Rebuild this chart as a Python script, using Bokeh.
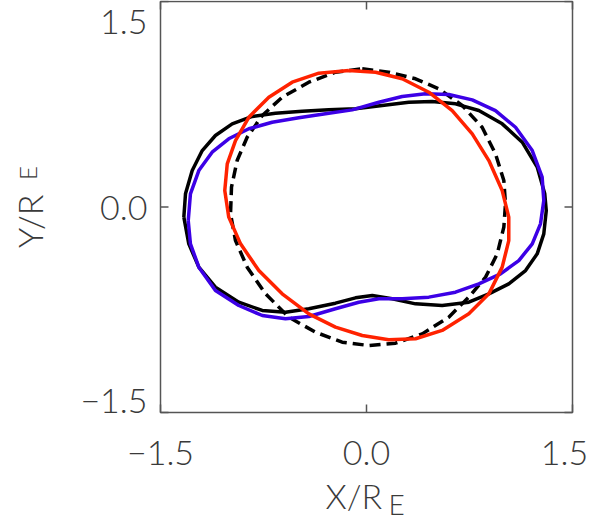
import math
from bokeh.plotting import figure
from bokeh.models import Label, ColumnDataSource
from bokeh.core.properties import value
from bokeh.embed import file_html
from bokeh.resources import INLINE

# ---------------- data ----------------
x_ticks = [-1.5, 0.0, 1.5]
y_ticks = [-1.5, 0.0, 1.5]
x_tick_labels = ["\u22121.5", "0.0", "1.5"]
y_tick_labels = ["\u22121.5", "0.0", "1.5"]

black_x = [-1.330, -1.318, -1.269, -1.196, -1.100, -0.978, -0.832, -0.663, -0.468, -0.275,
           -0.080, 0.114, 0.308, 0.478, 0.648, 0.818, 0.988, 1.134, 1.243, 1.298,
           1.309, 1.291, 1.243, 1.158, 1.036, 0.891, 0.745, 0.551, 0.357, 0.187,
           0.042, -0.080, -0.226, -0.420, -0.590, -0.759, -0.930, -1.100, -1.221, -1.294, -1.330]
black_y = [-0.074, 0.096, 0.266, 0.412, 0.522, 0.607, 0.661, 0.685, 0.699, 0.709,
           0.717, 0.741, 0.765, 0.770, 0.753, 0.704, 0.607, 0.473, 0.291, 0.096,
           -0.026, -0.196, -0.342, -0.464, -0.561, -0.634, -0.695, -0.719, -0.707, -0.670,
           -0.646, -0.663, -0.702, -0.743, -0.768, -0.755, -0.695, -0.585, -0.439, -0.269, -0.074]

blue_x = [-1.298, -1.282, -1.221, -1.124, -1.003, -0.857, -0.687, -0.493, -0.299, -0.104,
          0.090, 0.260, 0.430, 0.599, 0.770, 0.939, 1.085, 1.207, 1.279, 1.291,
          1.267, 1.207, 1.109, 0.976, 0.818, 0.648, 0.454, 0.260, 0.090, -0.056,
          -0.226, -0.420, -0.590, -0.759, -0.930, -1.100, -1.221, -1.282, -1.298]
blue_y = [-0.099, 0.096, 0.266, 0.400, 0.498, 0.571, 0.619, 0.651, 0.680, 0.709,
          0.765, 0.807, 0.826, 0.821, 0.782, 0.704, 0.582, 0.412, 0.218, 0.047,
          -0.123, -0.269, -0.391, -0.488, -0.561, -0.622, -0.658, -0.670, -0.670, -0.695,
          -0.743, -0.799, -0.816, -0.792, -0.719, -0.609, -0.439, -0.269, -0.099]

red_x = [-0.129, 0.066, 0.260, 0.454, 0.624, 0.770, 0.891, 0.988, 1.036, 1.036,
         0.988, 0.891, 0.745, 0.551, 0.357, 0.162, -0.031, -0.226, -0.420, -0.614,
         -0.784, -0.917, -1.003, -1.032, -1.014, -0.954, -0.857, -0.711, -0.541, -0.347, -0.129]
red_y = [0.996, 0.984, 0.936, 0.838, 0.704, 0.534, 0.339, 0.120, -0.074, -0.245,
         -0.439, -0.634, -0.780, -0.901, -0.962, -0.969, -0.938, -0.877, -0.780, -0.634,
         -0.464, -0.269, -0.074, 0.120, 0.315, 0.485, 0.655, 0.801, 0.911, 0.977, 0.996]

dash_x = [-0.031, 0.162, 0.357, 0.526, 0.697, 0.842, 0.939, 1.000, 1.012, 1.000,
          0.952, 0.867, 0.745, 0.599, 0.406, 0.211, 0.017, -0.177, -0.371, -0.566,
          -0.735, -0.869, -0.954, -0.990, -0.983, -0.942, -0.869, -0.759, -0.614, -0.420,
          -0.226, -0.031]
dash_y = [1.009, 0.984, 0.936, 0.863, 0.741, 0.582, 0.388, 0.193, 0.023, -0.147,
          -0.342, -0.512, -0.658, -0.804, -0.926, -0.994, -1.011, -0.987, -0.914, -0.804,
          -0.634, -0.439, -0.245, -0.050, 0.145, 0.339, 0.509, 0.668, 0.801, 0.911,
          0.984, 1.009]

# ---------------- layout / styles ----------------
W, H = 597, 520
BOX_L, BOX_R, BOX_T, BOX_B = 160, 572, 1, 412       # pixel box of the plot frame
lo, hi = x_ticks[0], x_ticks[-1]
sx = (BOX_R - BOX_L) / (hi - lo)
sy = (BOX_B - BOX_T) / (hi - lo)
x_range = (lo - BOX_L / sx, hi + (W - BOX_R) / sx)
y_range = (lo - (H - BOX_B) / sy, hi + BOX_T / sy)

FONT = "Lato Light, Roboto Light, DejaVu Sans"
TXT = "#3a3a3a"
FRAME = "#555555"
TICK = 8
LW = 3.5

p = figure(width=W, height=H, x_range=x_range, y_range=y_range,
           output_backend="svg", toolbar_location=None,
           x_axis_location=None, y_axis_location=None,
           min_border=0)
p.grid.visible = False
p.outline_line_color = None
p.background_fill_color = "white"
p.border_fill_color = "white"

# frame box
p.quad(left=[lo], right=[hi], bottom=[lo], top=[hi], fill_color=None,
       line_color=FRAME, line_width=1.5)

# inward ticks on all four sides
tx = TICK / sx
ty = TICK / sy
n = len(x_ticks)
p.segment(x0=x_ticks, y0=[lo] * n, x1=x_ticks, y1=[lo + ty] * n, line_color=FRAME, line_width=1.5)
p.segment(x0=x_ticks, y0=[hi] * n, x1=x_ticks, y1=[hi - ty] * n, line_color=FRAME, line_width=1.5)
p.segment(x0=[lo] * n, y0=y_ticks, x1=[lo + tx] * n, y1=y_ticks, line_color=FRAME, line_width=1.5)
p.segment(x0=[hi] * n, y0=y_ticks, x1=[hi - tx] * n, y1=y_ticks, line_color=FRAME, line_width=1.5)

# curves
p.line(dash_x, dash_y, line_color="black", line_width=LW, line_dash="11 6")
p.line(black_x, black_y, line_color="black", line_width=LW, line_join="round")
p.line(blue_x, blue_y, line_color="#3c00e6", line_width=LW, line_join="round")
p.line(red_x, red_y, line_color="#ff2200", line_width=LW, line_join="round")

# tick labels
xs = ColumnDataSource(dict(x=x_ticks, y=[lo] * n, t=x_tick_labels, dx=[0, 0, -8]))
p.text(x="x", y="y", text="t", x_offset="dx", y_offset=40, source=xs,
       text_align="center", text_baseline="middle",
       text_font=value(FONT), text_font_size="34px", text_color=TXT)
ys = ColumnDataSource(dict(x=[lo] * n, y=y_ticks, t=y_tick_labels, dy=[-12, 1, 20]))
p.text(x="x", y="y", text="t", x_offset=-13, y_offset="dy", source=ys,
       text_align="right", text_baseline="middle",
       text_font=value(FONT), text_font_size="34px", text_color=TXT)

# axis titles
p.add_layout(Label(x=0.0, y=lo, x_offset=-41, y_offset=-83, text="X/R",
                   text_align="left", text_baseline="alphabetic",
                   text_font=FONT, text_font_size="34px", text_color=TXT))
p.add_layout(Label(x=0.0, y=lo, x_offset=22, y_offset=-91, text="E",
                   text_align="left", text_baseline="alphabetic",
                   text_font=FONT, text_font_size="28px", text_color=TXT))
p.add_layout(Label(x=lo, y=0.0, x_offset=-131, y_offset=-41, text="Y/R", angle=math.pi / 2,
                   text_align="left", text_baseline="alphabetic",
                   text_font=FONT, text_font_size="34px", text_color=TXT))
p.add_layout(Label(x=lo, y=0.0, x_offset=-133, y_offset=27, text="E", angle=math.pi / 2,
                   text_align="left", text_baseline="alphabetic",
                   text_font=FONT, text_font_size="24px", text_color=TXT))

open("out.html", "w").write(file_html(p, INLINE))
